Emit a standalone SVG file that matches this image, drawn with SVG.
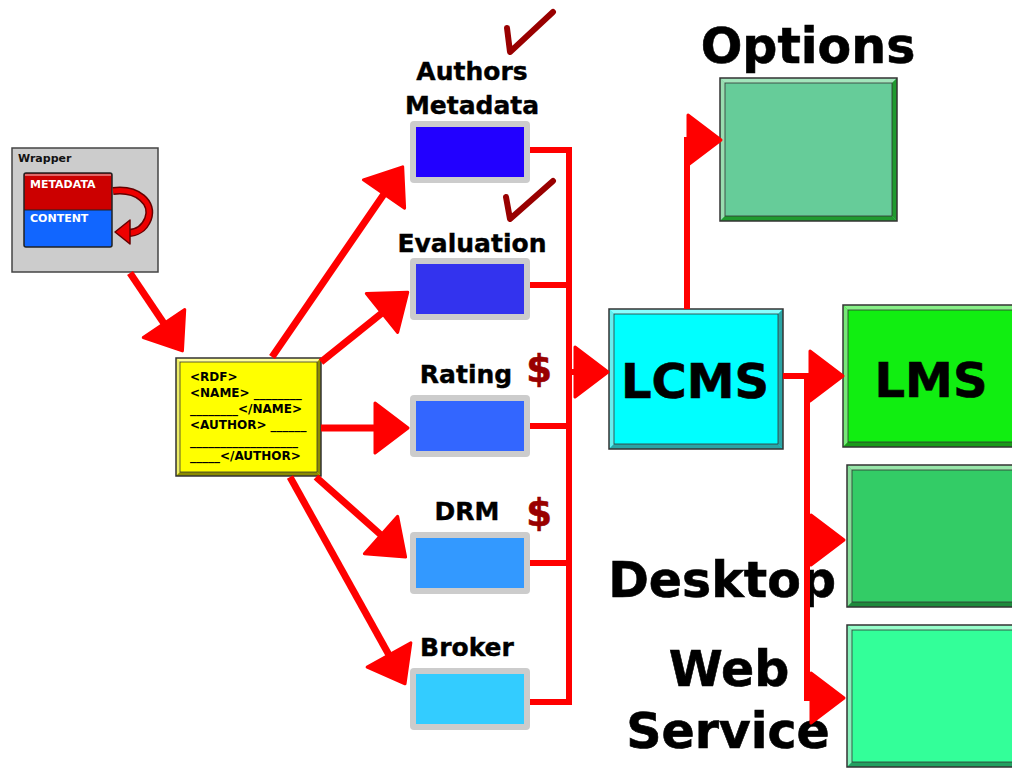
<svg xmlns="http://www.w3.org/2000/svg" width="1012" height="768" viewBox="0 0 1012 768">
  <style>
    .lbl { font-family: "DejaVu Sans", Verdana, sans-serif; font-weight: bold; fill: #000; stroke: #000; stroke-width: 0.6; }
    .big { font-size: 49px; }
    .mid { font-size: 25px; text-anchor: middle; stroke-width: 0.4; }
    .code { font-family: "DejaVu Sans", Verdana, sans-serif; font-weight: bold; font-size: 12px; fill: #000; }
    .small { font-family: "DejaVu Sans", Verdana, sans-serif; font-weight: bold; font-size: 11px; }
    .money { font-family: "DejaVu Sans", Verdana, sans-serif; font-weight: bold; font-size: 37px; fill: #990000; stroke: #990000; stroke-width: 0.6; text-anchor: middle; }
    .check { fill: none; stroke: #990000; stroke-width: 6; stroke-linecap: round; stroke-linejoin: round; }
    .slot { fill: #CCCCCC; }
    .edge { fill: none; stroke: #333; stroke-width: 1.5; }
    .wire { fill: none; stroke: #FF0000; stroke-width: 6; stroke-linejoin: miter; }
    .feed { fill: none; stroke: #FF0000; stroke-width: 7; }
  </style>
  <defs>
    <marker id="ah" markerUnits="userSpaceOnUse" markerWidth="42" markerHeight="60" viewBox="-3 -30 42 60" refX="0" refY="0" orient="auto" overflow="visible">
      <path d="M0,-25 L33,0 L0,25 Z" fill="#FF0000" stroke="#FF0000" stroke-width="3" stroke-linejoin="round"/>
    </marker>
  </defs>
  <rect width="1012" height="768" fill="#FFFFFF"/>

  <!-- wrapper package -->
  <g id="wrapper">
    <rect x="12" y="148" width="146" height="124" fill="#CCCCCC" stroke="#444" stroke-width="1.5"/>
    <text class="small" x="18" y="162" fill="#111">Wrapper</text>
    <rect x="24" y="173" width="88" height="37" fill="#CC0000"/>
    <rect x="24" y="210" width="88" height="37" fill="#1166FF"/>
    <line x1="25" y1="175" x2="111" y2="175" stroke="#E06666" stroke-width="2"/>
    <line x1="24" y1="210" x2="112" y2="210" stroke="#222" stroke-width="1"/>
    <rect x="24" y="173" width="88" height="74" rx="2" fill="none" stroke="#222" stroke-width="1.5"/>
    <text class="small" x="30" y="188" fill="#FFFFFF">METADATA</text>
    <text class="small" x="30" y="222" fill="#FFFFFF">CONTENT</text>
    <path d="M113,191 C138,188 154,203 148,219 C144,229 136,233 128,233" fill="none" stroke="#660000" stroke-width="8"/>
    <path d="M113,191 C138,188 154,203 148,219 C144,229 136,233 128,233" fill="none" stroke="#EE0000" stroke-width="5"/>
    <path d="M115,232 L130,220 L130,244 Z" fill="#EE0000" stroke="#660000" stroke-width="1.5" stroke-linejoin="round"/>
  </g>

  <!-- RDF record -->
  <g id="rdf">
    <rect x="176" y="358" width="145" height="118" fill="#FFFF00"/>
    <polygon points="176,358 321,358 317,362 180,362" fill="#FFFF99"/>
    <polygon points="176,358 180,362 180,472 176,476" fill="#EEEE66"/>
    <polygon points="176,476 180,472 317,472 321,476" fill="#8C8C00"/>
    <polygon points="321,358 321,476 317,472 317,362" fill="#8C8C00"/>
    <rect x="180" y="362" width="137" height="110" fill="none" stroke="#333" stroke-width="0.8"/>
    <rect x="176" y="358" width="145" height="118" class="edge"/>
    <text class="code" x="190" y="381">&lt;RDF&gt;</text>
    <text class="code" x="190" y="397">&lt;NAME&gt; ________</text>
    <text class="code" x="190" y="413">________&lt;/NAME&gt;</text>
    <text class="code" x="190" y="429">&lt;AUTHOR&gt; ______</text>
    <text class="code" x="190" y="445">__________________</text>
    <text class="code" x="190" y="460">_____&lt;/AUTHOR&gt;</text>
  </g>

  <!-- metadata services -->
  <g id="authors">
    <text class="lbl mid" x="472" y="80">Authors</text>
    <text class="lbl mid" x="472" y="114">Metadata</text>
    <rect class="slot" x="410" y="121" width="120" height="62" rx="4"/>
    <rect x="416" y="127" width="108" height="50" fill="#2200FF"/>
    <path class="check" d="M507,28 L510,52 L553,12"/>
  </g>
  <g id="evaluation">
    <text class="lbl mid" x="472" y="252">Evaluation</text>
    <rect class="slot" x="410" y="258" width="120" height="62" rx="4"/>
    <rect x="416" y="264" width="108" height="50" fill="#3333EE"/>
    <path class="check" d="M506,197 L510,219 L553,181"/>
  </g>
  <g id="rating">
    <text class="lbl mid" x="466" y="383">Rating</text>
    <text class="money" x="539" y="382">$</text>
    <rect class="slot" x="410" y="395" width="120" height="62" rx="4"/>
    <rect x="416" y="401" width="108" height="50" fill="#3366FF"/>
  </g>
  <g id="drm">
    <text class="lbl mid" x="467" y="520">DRM</text>
    <text class="money" x="539" y="526">$</text>
    <rect class="slot" x="410" y="532" width="120" height="62" rx="4"/>
    <rect x="416" y="538" width="108" height="50" fill="#3399FF"/>
  </g>
  <g id="broker">
    <text class="lbl mid" x="467" y="656">Broker</text>
    <rect class="slot" x="410" y="668" width="120" height="62" rx="4"/>
    <rect x="416" y="674" width="108" height="50" fill="#33CCFF"/>
  </g>

  <!-- content management -->
  <g id="lcms">
    <rect x="609" y="309" width="174" height="140" fill="#00FFFF"/>
    <polygon points="609,309 783,309 778,314 614,314" fill="#88FFFF"/>
    <polygon points="609,309 614,314 614,444 609,449" fill="#66EEEE"/>
    <polygon points="609,449 614,444 778,444 783,449" fill="#2BA5A5"/>
    <polygon points="783,309 783,449 778,444 778,314" fill="#2BA5A5"/>
    <rect x="614" y="314" width="164" height="130" fill="none" stroke="#333" stroke-width="0.8"/>
    <rect x="609" y="309" width="174" height="140" class="edge"/>
    <text class="lbl" x="695" y="398" font-size="48" text-anchor="middle">LCMS</text>
  </g>

  <g id="options">
    <text class="lbl big" x="808" y="63" text-anchor="middle">Options</text>
    <rect x="720" y="78" width="177" height="143" fill="#66CC99"/>
    <polygon points="720,78 897,78 892,83 725,83" fill="#A3E6BC"/>
    <polygon points="720,78 725,83 725,216 720,221" fill="#99DDB0"/>
    <polygon points="720,221 725,216 892,216 897,221" fill="#1F9A2F"/>
    <polygon points="897,78 897,221 892,216 892,83" fill="#1F9A2F"/>
    <rect x="725" y="83" width="167" height="133" fill="none" stroke="#333" stroke-width="0.8"/>
    <rect x="720" y="78" width="177" height="143" class="edge"/>
  </g>

  <g id="lms">
    <rect x="843" y="305" width="200" height="142" fill="#11EE11"/>
    <polygon points="843,305 1043,305 1038,310 848,310" fill="#88F088"/>
    <polygon points="843,305 848,310 848,442 843,447" fill="#77E877"/>
    <polygon points="843,447 848,442 1038,442 1043,447" fill="#1A9A1A"/>
    <rect x="848" y="310" width="190" height="132" fill="none" stroke="#333" stroke-width="0.8"/>
    <rect x="843" y="305" width="200" height="142" class="edge"/>
    <text class="lbl" x="931" y="397" font-size="48" text-anchor="middle">LMS</text>
  </g>

  <g id="desktop">
    <text class="lbl big" x="836" y="597" text-anchor="end">Desktop</text>
    <rect x="847" y="465" width="200" height="142" fill="#33CC66"/>
    <polygon points="847,465 1047,465 1042,470 852,470" fill="#99E6AA"/>
    <polygon points="847,465 852,470 852,602 847,607" fill="#88DD99"/>
    <polygon points="847,607 852,602 1042,602 1047,607" fill="#1E8A3C"/>
    <rect x="852" y="470" width="190" height="132" fill="none" stroke="#333" stroke-width="0.8"/>
    <rect x="847" y="465" width="200" height="142" class="edge"/>
  </g>

  <g id="webservice">
    <text class="lbl big" x="729" y="686" text-anchor="middle">Web</text>
    <text class="lbl big" x="728" y="748" text-anchor="middle">Service</text>
    <rect x="847" y="625" width="200" height="142" fill="#33FF99"/>
    <polygon points="847,625 1047,625 1042,630 852,630" fill="#99FFCC"/>
    <polygon points="847,625 852,630 852,762 847,767" fill="#88F0BB"/>
    <polygon points="847,767 852,762 1042,762 1047,767" fill="#22A060"/>
    <rect x="852" y="630" width="190" height="132" fill="none" stroke="#333" stroke-width="0.8"/>
    <rect x="847" y="625" width="200" height="142" class="edge"/>
  </g>

  <!-- connectors -->
  <g id="connectors">
    <line class="feed" x1="130" y1="273" x2="164" y2="323.5" marker-end="url(#ah)"/>
    <line class="feed" x1="272" y1="357" x2="384" y2="194" marker-end="url(#ah)"/>
    <line class="feed" x1="321" y1="362" x2="382" y2="313" marker-end="url(#ah)"/>
    <line class="feed" x1="321" y1="428" x2="375" y2="428" marker-end="url(#ah)"/>
    <line class="feed" x1="316" y1="477" x2="381" y2="535" marker-end="url(#ah)"/>
    <line class="feed" x1="290" y1="477" x2="389" y2="655" marker-end="url(#ah)"/>

    <path class="wire" d="M530,150 H569 V702 H530"/>
    <path class="wire" d="M530,285 H569"/>
    <path class="wire" d="M530,426 H569"/>
    <path class="wire" d="M530,563 H569"/>
    <path class="wire" d="M569,372 H575" marker-end="url(#ah)"/>

    <path class="wire" d="M687,309 V140 H688" marker-end="url(#ah)"/>
    <path class="wire" d="M783,376 H810" marker-end="url(#ah)"/>
    <path class="wire" d="M807,376 V698 H811" marker-end="url(#ah)"/>
    <path class="wire" d="M807,540 H811" marker-end="url(#ah)"/>
  </g>
</svg>
